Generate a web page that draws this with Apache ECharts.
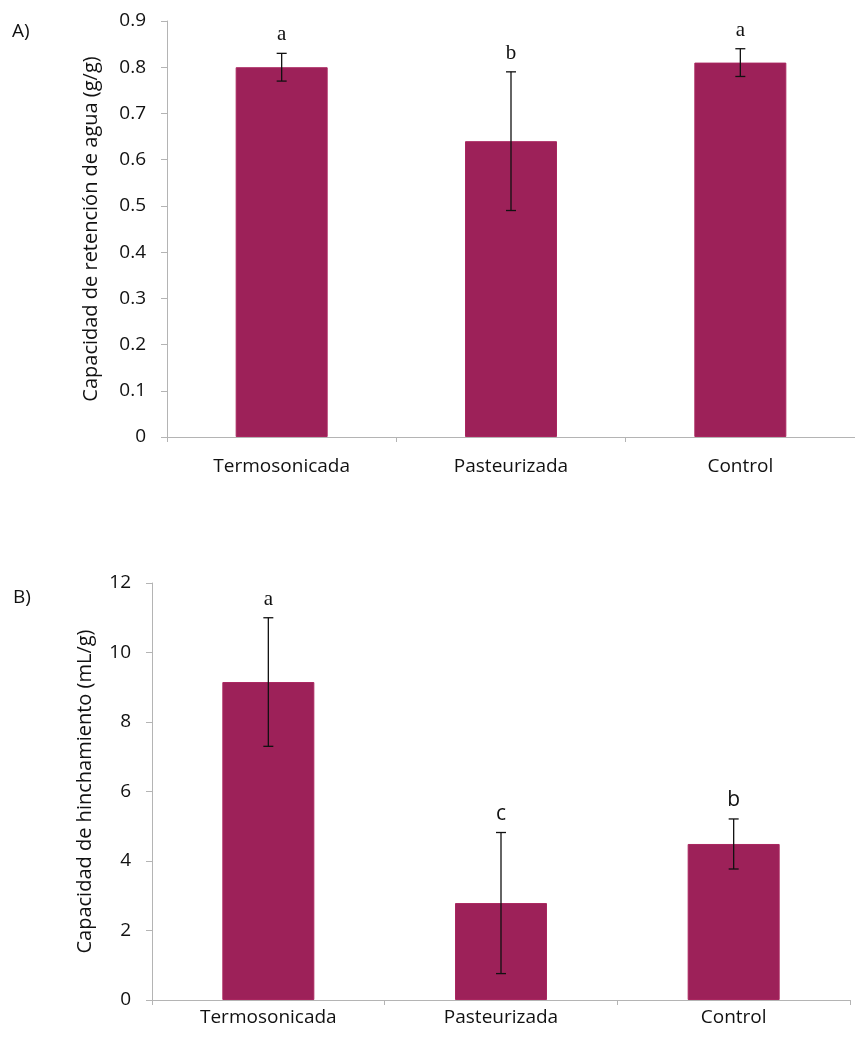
<!DOCTYPE html>
<html>
<head>
<meta charset="utf-8">
<script src="https://cdn.jsdelivr.net/npm/echarts@6/dist/echarts.min.js"></script>
<style>
html,body{margin:0;padding:0;background:#fff;}
#c{width:855px;height:1041px;}
</style>
</head>
<body>
<div id="c"></div>
<script>
const categories = ['Termosonicada', 'Pasteurizada', 'Control'];

// Panel A: water retention capacity (g/g)
const retentionValues = [0.80, 0.64, 0.81];
const retentionErrors = [0.03, 0.15, 0.03];
const retentionLetters = ['a', 'b', 'a'];

// Panel B: swelling capacity (mL/g)
const swellingValues = [9.15, 2.79, 4.49];
const swellingErrors = [1.85, 2.03, 0.72];
const swellingLetters = ['a', 'c', 'b'];

const panelLabels = ['A)', 'B)'];
const yNames = ['Capacidad de retención de agua (g/g)', 'Capacidad de hinchamiento (mL/g)'];

const BAR = '#9D2159';
const AXIS = '#b4b4b4';
const FONT = '"Open Sans", sans-serif';

function errorSeries(idx, values, errors, letters, fonts) {
  return {
    type: 'custom',
    xAxisIndex: idx, yAxisIndex: idx,
    z: 10,
    data: values.map((v, i) => [i, v, errors[i]]),
    renderItem: function (params, api) {
      const i = api.value(0), v = api.value(1), e = api.value(2);
      const top = api.coord([i, v + e]);
      const bot = api.coord([i, v - e]);
      const hw = 5;
      const ls = { stroke: '#111', lineWidth: 1.3 };
      return {
        type: 'group',
        children: [
          { type: 'line', shape: { x1: top[0], y1: top[1], x2: bot[0], y2: bot[1] }, style: ls },
          { type: 'line', shape: { x1: top[0] - hw, y1: top[1], x2: top[0] + hw, y2: top[1] }, style: ls },
          { type: 'line', shape: { x1: bot[0] - hw, y1: bot[1], x2: bot[0] + hw, y2: bot[1] }, style: ls },
          { type: 'text', x: top[0], y: top[1] - 8,
            style: { text: letters[i], fontSize: 21, fontFamily: fonts[i], fill: '#111',
                     align: 'center', verticalAlign: 'bottom' } }
        ]
      };
    }
  };
}

const chart = echarts.init(document.getElementById('c'), null, { renderer: 'canvas' });

const commonX = {
  type: 'category',
  data: categories,
  axisLine: { lineStyle: { color: AXIS, width: 1 } },
  axisTick: { show: true, length: 5, lineStyle: { color: AXIS } },
  axisLabel: { color: '#111', fontSize: 19, fontFamily: FONT }
};

const commonY = {
  type: 'value',
  min: 0,
  axisLine: { show: true, lineStyle: { color: AXIS, width: 1 } },
  axisTick: { show: true, length: 6, lineStyle: { color: AXIS } },
  splitLine: { show: false },
  nameLocation: 'middle',
  nameTextStyle: { color: '#111', fontSize: 20, fontFamily: FONT }
};

chart.setOption({
  animation: false,
  backgroundColor: '#fff',
  grid: [
    { left: 167, top: 21, width: 694, height: 416 },
    { left: 152, top: 583, width: 698, height: 417 }
  ],
  xAxis: [
    Object.assign({}, commonX, { gridIndex: 0, axisLabel: Object.assign({}, commonX.axisLabel, { margin: 20 }) }),
    Object.assign({}, commonX, { gridIndex: 1, axisLabel: Object.assign({}, commonX.axisLabel, { margin: 8 }) })
  ],
  yAxis: [
    Object.assign({}, commonY, {
      gridIndex: 0, max: 0.9, interval: 0.1,
      name: yNames[0], nameGap: 66,
      axisLabel: { color: '#111', fontSize: 19, fontFamily: FONT, margin: 21,
                   formatter: v => String(Math.round(v * 10) / 10) }
    }),
    Object.assign({}, commonY, {
      gridIndex: 1, max: 12, interval: 2,
      name: yNames[1], nameGap: 57,
      axisLabel: { color: '#111', fontSize: 19, fontFamily: FONT, margin: 21 }
    })
  ],
  graphic: [
    { type: 'text', left: 12, top: 22, style: { text: panelLabels[0], fontSize: 19, fontFamily: FONT, fill: '#111' } },
    { type: 'text', left: 13, top: 588, style: { text: panelLabels[1], fontSize: 19, fontFamily: FONT, fill: '#111' } }
  ],
  series: [
    { type: 'bar', xAxisIndex: 0, yAxisIndex: 0, data: retentionValues, barWidth: 92,
      itemStyle: { color: BAR, borderColor: '#A9265F', borderWidth: 1 } },
    { type: 'bar', xAxisIndex: 1, yAxisIndex: 1, data: swellingValues, barWidth: 92,
      itemStyle: { color: BAR, borderColor: '#A9265F', borderWidth: 1 } },
    errorSeries(0, retentionValues, retentionErrors, retentionLetters,
      ['"Liberation Serif", serif', '"Liberation Serif", serif', '"Liberation Serif", serif']),
    errorSeries(1, swellingValues, swellingErrors, swellingLetters,
      ['"Liberation Serif", serif', FONT, FONT])
  ]
});
</script>
</body>
</html>
